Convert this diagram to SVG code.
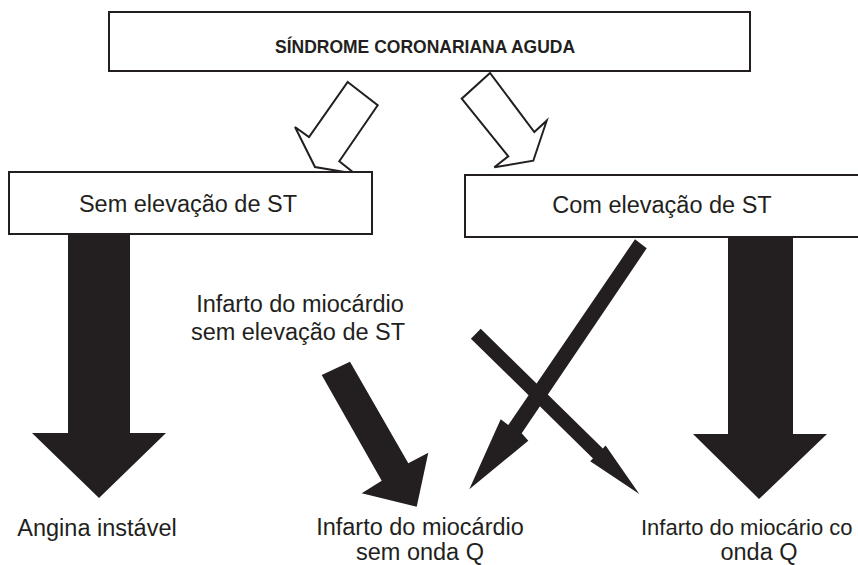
<svg xmlns="http://www.w3.org/2000/svg" width="858" height="565" viewBox="0 0 858 565">
<style>
.box{fill:#fff;stroke:#231f20;stroke-width:2}
.hollow{fill:#fff;stroke:#231f20;stroke-width:2;stroke-linejoin:miter}
.solid{fill:#231f20;stroke:none}
.t{font-family:"Liberation Sans",Arial,sans-serif;font-size:23.5px;fill:#231f20;text-anchor:middle}
.title{font-family:"Liberation Sans",Arial,sans-serif;font-size:17.5px;font-weight:bold;fill:#231f20;text-anchor:middle}
</style>
<rect width="858" height="565" fill="#fff"/>
<g id="connectors">
  <polygon class="hollow" points="347.7,82 377.7,105.3 339.3,161.3 355,173.7 315,167 295,127 309,137"/>
  <polygon class="hollow" points="490,73 461.7,98.7 508.3,156.3 494.3,167.3 533.3,160.7 546.7,120.7 534.3,132"/>
  <polygon class="solid" points="68,234 130,234 130,433 166,433 99,498 32,433 68,433"/>
  <polygon class="solid" points="728,237 793,237 793,434 827,434 759,499 693,434 728,434"/>
  <polygon class="solid" points="321.7,375 350,361.7 408.3,463.3 428.3,452.7 416.7,506.7 361.7,493.3 381.7,480.7"/>
  <polygon class="solid" points="480.7,328.7 602.8,448.4 605.6,445.5 639.3,494 590.2,461.3 593,458.4 470.9,338.7"/>
  <polygon class="solid" points="635,239.3 646.7,248.3 521.7,433.3 528.3,440.7 469.3,489.3 500.7,419.3 508.3,425"/>
</g>
<g id="node-sca">
  <rect class="box" x="109" y="12" width="641" height="59"/>
  <text class="title" x="425" y="53">SÍNDROME CORONARIANA AGUDA</text>
</g>
<g id="node-sem-st">
  <rect class="box" x="9" y="172" width="363" height="62"/>
  <text class="t" x="188" y="212">Sem elevação de ST</text>
</g>
<g id="node-com-st">
  <rect class="box" x="465" y="175" width="400" height="62"/>
  <text class="t" x="662" y="213">Com elevação de ST</text>
</g>
<g id="node-iam-sem-st">
  <text class="t" x="300" y="312">Infarto do miocárdio</text>
  <text class="t" x="298" y="340">sem elevação de ST</text>
</g>
<g id="node-angina">
  <text class="t" x="97" y="536">Angina instável</text>
</g>
<g id="node-sem-q">
  <text class="t" x="420" y="535">Infarto do miocárdio</text>
  <text class="t" x="420" y="560">sem onda Q</text>
</g>
<g id="node-com-q">
  <text class="t" x="641" y="535" style="text-anchor:start;font-size:22px">Infarto do miocário co</text>
  <text class="t" x="759" y="560">onda Q</text>
</g>
</svg>
